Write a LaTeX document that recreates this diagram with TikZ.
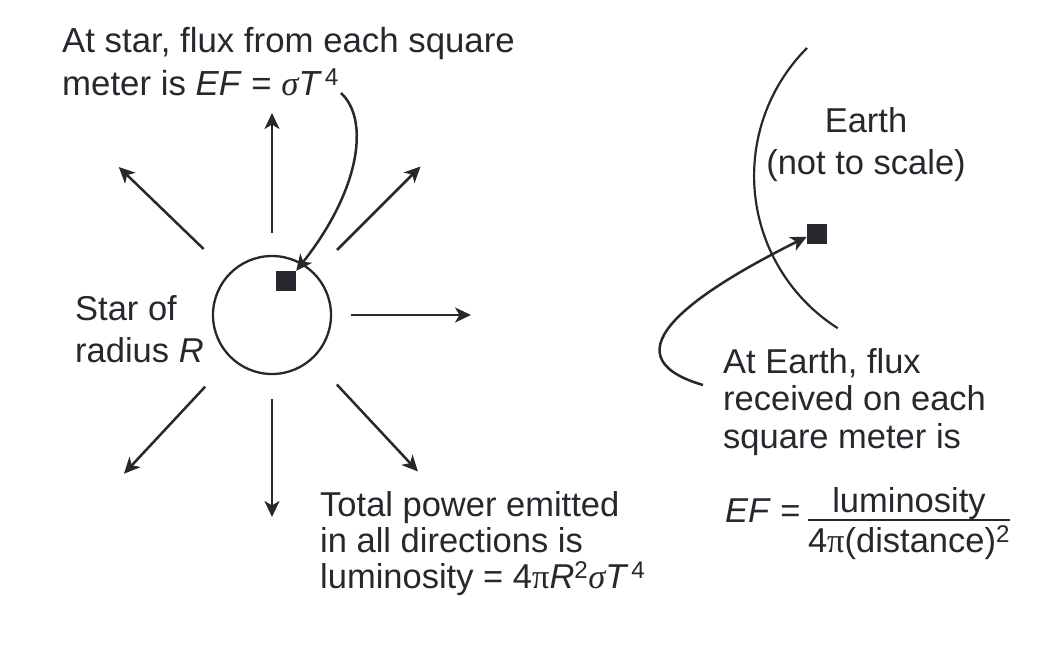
\documentclass[tikz,border=0pt]{standalone}
\usepackage{fontspec}
\usepackage{tikz}
\usetikzlibrary{arrows.meta,calc}
\setmainfont{Liberation Sans}
\newfontfamily\greekfont{Liberation Serif}
\definecolor{inkdark}{RGB}{38,40,46}
\newcommand{\sig}{{\greekfont\itshape σ}}
\newcommand{\pie}{{\greekfont π}}

\begin{document}
\begin{tikzpicture}[x=1pt,y=1pt,
    every node/.style={text=inkdark,inner sep=0pt},
    ray/.style={draw=inkdark,line width=2.5pt,-{Stealth[length=16pt,width=15pt,inset=4.5pt]}},
    txt/.style={anchor=base west,align=left},
    patch/.style={fill=inkdark,minimum size=20pt}]

\useasboundingbox (0,0) rectangle (1058,-646);

% star and its rays
\node[draw=inkdark,line width=2.3pt,circle,minimum size=118pt] (star) at (272,-315) {};
\node[patch] (starpatch) at (286,-281) {};
\foreach \ang/\rin/\rout in {90/82/202,45/92/210,0/79/199,-47/95/214,-90/84/202,-133/98/217,136/95/213}
    \draw[ray] ($(star.center)+(\ang:\rin)$) -- ($(star.center)+(\ang:\rout)$);

\node[txt,font=\fontsize{34.8}{43}\selectfont] (startext) at (62,-95)
    {At star, flux from each square\\meter is \textit{EF} = \sig\textit{T}\kern3pt\textsuperscript{4}};
\coordinate (fluxstart) at (341,-93);
\draw[ray] (fluxstart) .. controls (370,-120) and (360,-190) .. (starpatch.north east);

\node[txt,font=\fontsize{34.5}{42}\selectfont] (starlabel) at (75,-362)
    {Star of\\radius \textit{R}};

\node[txt,font=\fontsize{34.5}{36}\selectfont] (power) at (320,-588)
    {Total power emitted\\in all directions is\\luminosity = 4\pie\textit{R}\textsuperscript{2}\sig\textit{T}\kern3pt\textsuperscript{4}};

% earth side
\coordinate (earthtop) at (807,-48);
\draw[inkdark,line width=2.2pt] (earthtop) arc[start angle=135,end angle=237.5,radius=180.7pt];
\node[align=center,anchor=base,font=\fontsize{34.5}{42}\selectfont] (earthlabel) at (866,-174)
    {Earth\\(not to scale)};
\node[patch] (earthpatch) at (817,-234) {};
\coordinate (recvstart) at (703,-385);
\draw[ray] (recvstart) .. controls (600,-355) and (700,-290) .. (earthpatch.195);

\node[txt,font=\fontsize{34.5}{37.5}\selectfont] (earthtext) at (723,-448)
    {At Earth, flux\\received on each\\square meter is};

\node[anchor=base west,font=\fontsize{34.5}{40}\selectfont] (eflabel) at (725,-522) {\textit{EF} =};
\node[anchor=base,font=\fontsize{34.5}{40}\selectfont] (numer) at (909,-512) {luminosity};
\node[anchor=base,font=\fontsize{34.5}{40}\selectfont] (denom) at (909,-552) {4\pie(distance)\textsuperscript{2}};
\draw[inkdark,line width=2.2pt] ([yshift=-1pt]numer.south -| denom.west) -- ([yshift=-1pt]numer.south -| denom.east);

\end{tikzpicture}
\end{document}
